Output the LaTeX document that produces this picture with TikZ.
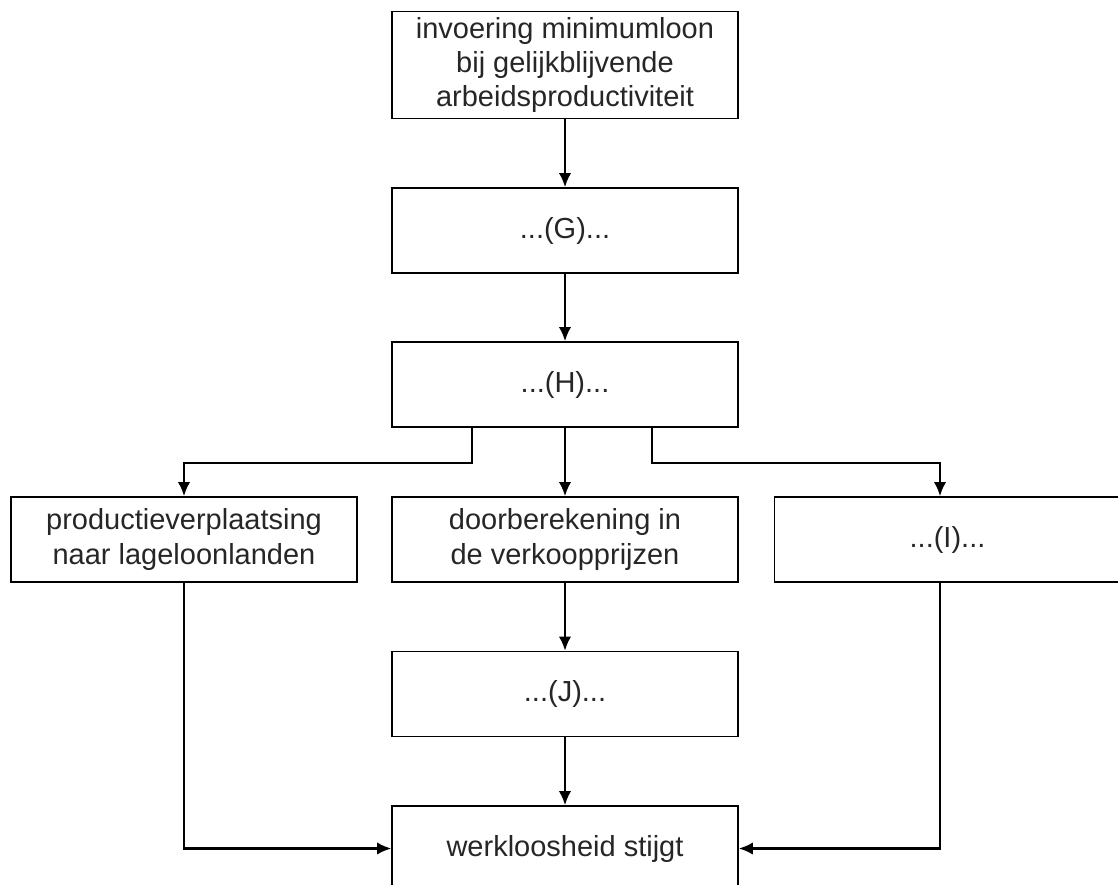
\documentclass[tikz,border=0pt]{standalone}
\usepackage{fontspec}
\setmainfont{Liberation Sans}
\usetikzlibrary{arrows.meta}

\begin{document}
\begin{tikzpicture}[box/.style={draw,line width=0.9pt,minimum width=6.92cm,minimum height=1.7cm,align=center,text=black!85,font=\fontsize{16.5}{19.5}\selectfont}, arr/.style={-{Latex[length=8pt,width=7pt]},line width=1.2pt}]
  \useasboundingbox (0,0) rectangle (22.36,-17.7);
  \clip (0,0) rectangle (22.36,-17.7);
  \node[box,minimum height=2.12cm] (invoering) at (11.3,-1.3) {invoering minimumloon\\bij gelijkblijvende\\arbeidsproductiviteit};
  \node[box] (G) at (11.3,-4.61) {...(G)...};
  \node[box] (H) at (11.3,-7.69) {...(H)...};
  \node[box] (verplaatsing) at (3.68,-10.79) {productieverplaatsing\\naar lageloonlanden};
  \node[box] (doorberekening) at (11.3,-10.79) {doorberekening in\\de verkoopprijzen};
  \node[box] (I) at (18.95,-10.79) {...(I)...};
  \node[box] (J) at (11.3,-13.88) {...(J)...};
  \node[box] (werkloosheid) at (11.3,-16.97) {werkloosheid stijgt};

  \draw[arr] (invoering) -- (G);
  \draw[arr] (G) -- (H);
  \draw[arr] (H) -- (doorberekening);
  \draw[arr] ([xshift=-1.86cm]H.south) -- ++(0,-0.7cm) -| (verplaatsing.north);
  \draw[arr] ([xshift=1.74cm]H.south) -- ++(0,-0.7cm) -| ([xshift=-0.15cm]I.north);
  \draw[arr] (doorberekening) -- (J);
  \draw[arr] (J) -- (werkloosheid);
  \draw[arr] (verplaatsing.south) |- (werkloosheid.west);
  \draw[arr] ([xshift=-0.15cm]I.south) |- (werkloosheid.east);

\end{tikzpicture}
\end{document}
